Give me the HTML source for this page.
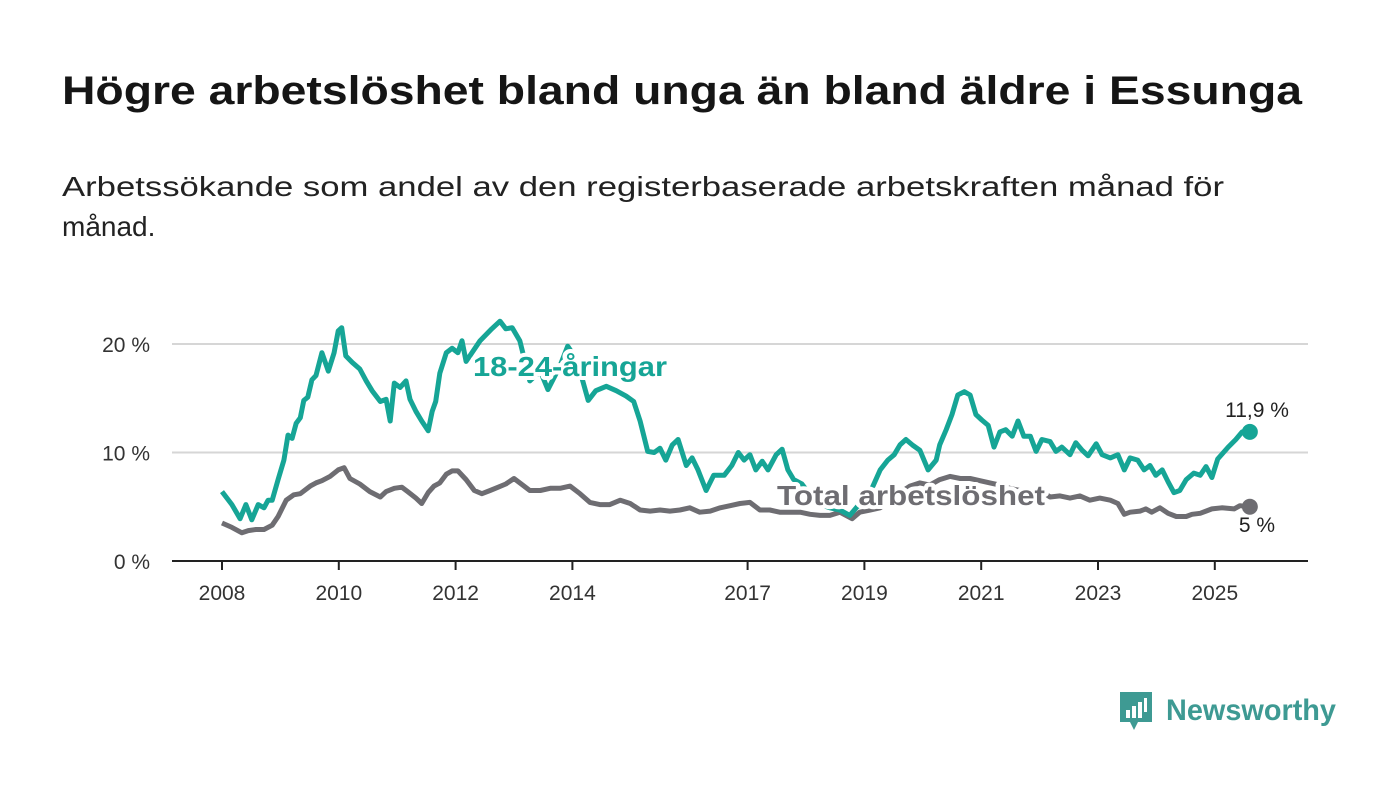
<!DOCTYPE html>
<html><head><meta charset="utf-8"><style>
body{margin:0;background:#fff;}
svg{display:block;font-family:"Liberation Sans",sans-serif;}
</style></head><body>
<svg width="1400" height="794" viewBox="0 0 1400 794">
<text x="62" y="104" font-size="40" font-weight="bold" fill="#151515" textLength="1240" lengthAdjust="spacingAndGlyphs">Högre arbetslöshet bland unga än bland äldre i Essunga</text>
<text x="62" y="196" font-size="28" fill="#222" textLength="1162" lengthAdjust="spacingAndGlyphs">Arbetssökande som andel av den registerbaserade arbetskraften månad för</text>
<text x="62" y="236" font-size="28" fill="#222">månad.</text>
<g id="grid"></g>
<g id="ticks"></g>
<g id="series"></g>
<g>
<path d="M1120 692 h32 v30 h-14 l-4 8 l-4 -8 h-10 z" fill="#3e9a93"/>
<rect x="1126" y="710" width="4" height="8" fill="#fff"/><rect x="1132" y="706" width="4" height="12" fill="#fff"/><rect x="1138" y="702" width="4" height="16" fill="#fff"/><rect x="1144" y="698" width="3" height="14" fill="#fff"/>
<text x="1166" y="720" font-size="30" font-weight="bold" fill="#3e9a93" textLength="170" lengthAdjust="spacingAndGlyphs">Newsworthy</text>
</g>
</svg>
<script>
const yTicks=[0,10,20];
const yTickLabels=["0 %","10 %","20 %"];
const xTicks=[2008,2010,2012,2014,2017,2019,2021,2023,2025];
const youthT=[0,0.17,0.31,0.41,0.51,0.62,0.72,0.79,0.86,0.96,1.06,1.13,1.2,1.27,1.34,1.4,1.47,1.54,1.61,1.71,1.82,1.92,1.99,2.05,2.12,2.23,2.36,2.47,2.57,2.71,2.81,2.88,2.95,3.05,3.15,3.22,3.32,3.42,3.53,3.6,3.66,3.73,3.84,3.94,4.04,4.11,4.18,4.42,4.62,4.76,4.86,4.97,5.1,5.27,5.45,5.58,5.79,5.92,6.03,6.13,6.27,6.4,6.58,6.75,6.92,7.05,7.16,7.29,7.4,7.5,7.6,7.71,7.81,7.95,8.05,8.15,8.29,8.42,8.6,8.73,8.84,8.94,9.04,9.14,9.25,9.35,9.49,9.59,9.69,9.79,9.93,10.07,10.24,10.41,10.58,10.75,10.89,11.03,11.13,11.27,11.4,11.51,11.61,11.71,11.82,11.95,12.09,12.23,12.29,12.4,12.5,12.6,12.71,12.81,12.91,13.01,13.12,13.22,13.32,13.42,13.53,13.63,13.73,13.84,13.94,14.04,14.18,14.28,14.38,14.52,14.62,14.73,14.83,14.97,15.07,15.21,15.34,15.45,15.55,15.68,15.79,15.89,15.99,16.1,16.2,16.3,16.4,16.51,16.64,16.75,16.85,16.95,17.05,17.23,17.36,17.47,17.6];
const youthV=[6.4,5.2,3.9,5.2,3.8,5.2,4.9,5.6,5.6,7.5,9.3,11.6,11.3,12.7,13.2,14.8,15.1,16.7,17.1,19.2,17.5,19.2,21.2,21.5,18.9,18.3,17.7,16.6,15.7,14.7,14.9,12.9,16.4,16.0,16.6,14.9,13.8,12.9,12.0,13.8,14.7,17.3,19.2,19.6,19.2,20.3,18.4,20.3,21.4,22.1,21.4,21.5,20.3,16.6,17.5,15.8,18.0,19.8,18.9,17.5,14.8,15.7,16.1,15.7,15.2,14.7,12.9,10.1,10.0,10.4,9.3,10.7,11.2,8.8,9.5,8.4,6.5,7.9,7.9,8.8,10.0,9.3,9.8,8.4,9.2,8.4,9.8,10.3,8.4,7.5,7.1,6.1,5.2,4.9,4.7,4.2,5.1,5.1,6.7,8.4,9.3,9.8,10.7,11.2,10.7,10.2,8.4,9.3,10.7,12.1,13.5,15.3,15.6,15.3,13.5,13.0,12.5,10.5,11.9,12.1,11.5,12.9,11.5,11.5,10.1,11.2,11.0,10.1,10.5,9.8,10.9,10.2,9.7,10.8,9.8,9.5,9.8,8.4,9.5,9.3,8.4,8.8,7.9,8.4,7.3,6.3,6.5,7.5,8.1,7.9,8.7,7.7,9.4,10.5,11.2,11.9,11.9];
const totalT=[0,0.17,0.34,0.45,0.58,0.72,0.86,0.96,1.1,1.23,1.34,1.51,1.61,1.71,1.85,1.99,2.09,2.19,2.36,2.53,2.71,2.81,2.95,3.08,3.18,3.32,3.42,3.53,3.63,3.73,3.84,3.94,4.04,4.18,4.32,4.45,4.59,4.73,4.86,5.0,5.1,5.27,5.45,5.62,5.79,5.96,6.13,6.3,6.47,6.64,6.82,6.99,7.16,7.33,7.5,7.67,7.84,8.01,8.18,8.36,8.53,8.7,8.87,9.04,9.21,9.38,9.55,9.73,9.9,10.07,10.24,10.41,10.58,10.79,10.92,11.1,11.27,11.44,11.61,11.78,11.95,12.12,12.29,12.47,12.64,12.81,12.98,13.15,13.32,13.49,13.66,14.01,14.18,14.35,14.52,14.69,14.86,15.03,15.21,15.34,15.45,15.55,15.72,15.82,15.92,16.06,16.2,16.34,16.51,16.61,16.75,16.85,16.95,17.12,17.33,17.43,17.6];
const totalV=[3.5,3.1,2.6,2.8,2.9,2.9,3.3,4.1,5.6,6.1,6.2,6.9,7.2,7.4,7.8,8.4,8.6,7.6,7.1,6.4,5.9,6.4,6.7,6.8,6.4,5.8,5.3,6.3,6.9,7.2,8.0,8.3,8.3,7.5,6.5,6.2,6.5,6.8,7.1,7.6,7.2,6.5,6.5,6.7,6.7,6.9,6.2,5.4,5.2,5.2,5.6,5.3,4.7,4.6,4.7,4.6,4.7,4.9,4.5,4.6,4.9,5.1,5.3,5.4,4.7,4.7,4.5,4.5,4.5,4.3,4.2,4.2,4.5,3.9,4.5,4.7,4.9,5.6,6.3,6.9,7.2,7.0,7.5,7.8,7.6,7.6,7.4,7.2,7.0,6.7,6.5,6.5,5.9,6.0,5.8,6.0,5.6,5.8,5.6,5.3,4.3,4.5,4.6,4.8,4.5,4.9,4.4,4.1,4.1,4.3,4.4,4.6,4.8,4.9,4.8,5.1,5.0];
const NS="http://www.w3.org/2000/svg";
const X=t=>222+t*58.4, XY=y=>X(y-2008), Y=v=>561-v*10.85;
function mk(tag,at,parent){const e=document.createElementNS(NS,tag);for(const k in at)e.setAttribute(k,at[k]);parent.appendChild(e);return e;}
const grid=document.getElementById('grid'),ticks=document.getElementById('ticks'),series=document.getElementById('series');
yTicks.forEach((v,i)=>{
 if(v>0){const g=mk('line',{x1:172,x2:1308,y1:Y(v),y2:Y(v),stroke:'#d6d6d6','stroke-width':2},grid);
 
 }
 const t=mk('text',{x:150,y:Y(v)+8,'font-size':21,fill:'#333','text-anchor':'end'},ticks);t.textContent=yTickLabels[i];
 
 
});
const ax=mk('line',{x1:172,x2:1308,y1:561,y2:561,stroke:'#222','stroke-width':2},ticks);


xTicks.forEach(y=>{
 mk('line',{x1:XY(y),x2:XY(y),y1:561,y2:570,stroke:'#222','stroke-width':2},ticks);
 const t=mk('text',{x:XY(y),y:600,'font-size':21,fill:'#333','text-anchor':'middle'},ticks);t.textContent=y;
 
 
});
function line(T,V,col,name){
 const d=T.map((t,i)=>(i?'L':'M')+X(t).toFixed(1)+' '+Y(V[i]).toFixed(1)).join(' ');
 const p=mk('path',{d:d,fill:'none',stroke:col,'stroke-width':5,'stroke-linejoin':'round'},series);
 
 
 const n=T.length-1;
 const c=mk('circle',{cx:X(T[n]),cy:Y(V[n]),r:8,fill:col},series);
 
 
}
line(totalT,totalV,'#6e6d72','total-line');
line(youthT,youthV,'#16a596','youth-line');
function lab(txt,x,y,col,size,bold,name,anchor,len){
 const at={x:x,y:y,'font-size':size,fill:col,'font-weight':bold?'bold':'normal','text-anchor':anchor||'start',stroke:'#fff','stroke-width':bold?8:0,'paint-order':'stroke','stroke-linejoin':'round'};
 if(len){at.textLength=len;at.lengthAdjust='spacingAndGlyphs';}
 const t=mk('text',at,series);
 t.textContent=txt;
 
 
}
lab('18-24-åringar',473,376,'#16a596',28,true,'youth-series-label','start',194);
lab('Total arbetslöshet',777,505,'#6e6d72',28,true,'total-series-label','start',268);
lab('11,9 %',1257,417,'#222',21,false,'youth-end-value','middle');
lab('5 %',1257,532,'#222',21,false,'total-end-value','middle');
</script>
</body></html>
